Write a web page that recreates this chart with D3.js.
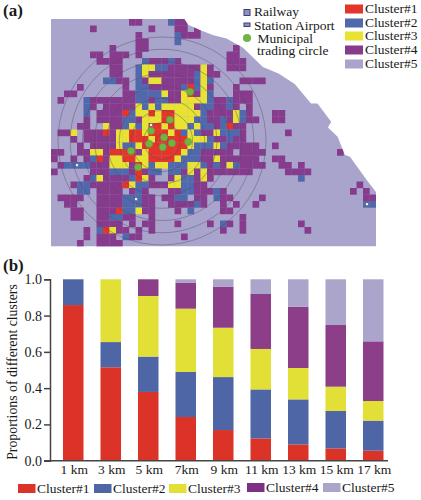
<!DOCTYPE html>
<html><head><meta charset="utf-8">
<script src="https://cdn.jsdelivr.net/npm/d3@7/dist/d3.min.js"></script>
<style>html,body{margin:0;background:#fff}svg{display:block}text{font-family:"Liberation Serif",serif;fill:#1a1a1a}</style>
</head><body><svg id="c" width="421" height="500"></svg>
<script>
const clusterNames=["Cluster#1","Cluster#2","Cluster#3","Cluster#4","Cluster#5"];
const mapColors=["#e3352a","#4f69ac","#e8e231","#873b8d","#a9a4cb"];
const barColors=["#dc3328","#4f66a6","#e2df36","#8c3f88","#aba5cc"];
const distances=["1 km","3 km","5 km","7km","9 km","11 km","13 km","15 km","17 km"];
const cluster1=[.858,.515,.379,.241,.169,.123,.09,.068,.055];
const cluster2=[.142,.139,.195,.248,.292,.27,.248,.206,.166];
const cluster3=[0,.346,.334,.349,.272,.223,.173,.134,.108];
const cluster4=[0,0,.092,.142,.227,.303,.338,.34,.329];
const cluster5=[0,0,0,.02,.04,.081,.151,.252,.342];
const yTicks=[0,.2,.4,.6,.8,1];
const ringKm=[1,3,5,7,9,11,13,15,17];
const gridRows=[
".......... ..44....24 4.........",
"......4... .....4...4 4.4.......",
".......... ...4.....2 444.......",
".......... ...44....2 ..........",
".........4 ...44..... ........4.",
"......44.4 44.4...... .......44.",
".......444 4...244424 .......444",
".........4 4..2332244 44434..444",
".........4 4..2344444 442344....",
"........22 44.2433444 44232....4 444",
"....4..... .4.2244444 21234...4.",
"..44...... .442222344 31432...44 4",
".4...24444 4442242244 3333244244 4",
".....24.44 4443232333 334224424. 4",
".....2.444 4123313113 3332444432 4",
".....4.444 4224333113 3322442432 44",
"....44..34 4232311313 3232242144",
".443.44414 3311311131 2324432224 ......4",
"...4.44444 3311131111 1333244244",
"....4.4444 3223111111 1322232444 44..4",
"44..443341 1114311111 32244444.4 444",
"4..4.42143 3113311113 2224434444 44..44",
".422224443 3341323322 2332424324 444..44.4.",
"4.....4442 2241422.22 4343444444 4.....4444",
".....42344 442134..43 22434..... ........2.",
"...4224444 4132244433 2244......",
"....22.444 4.424...44 2244424...",
".4444..444 422244.442 2.44.244.. ..4",
"..44...444 422244..44 4424..4.4. .4",
"...44..444 122344...4 .2....44..",
"...44..442 244..4.... .........4",
".......444 4.4.44...4 ....4.24.4 ........4.",
".....4.213 44.4.4.... ......4..4 .........4",
".....4.444 .244...... 4.........",
"....4..444 4........."
];
const rightRows={25:{47:4},26:{46:4,48:4},27:{48:4,49:4},28:{48:2,49:2},14:{34:4,35:4},15:{34:4,35:4},20:{44:4}};
const mapOutline=[[0,0],[20.5,0],[21.1,.9],[22.9,1.7],[25,2.5],[27,3],[29.5,4.4],[32.6,7.4],[35,8.4],[37.5,10],[40,13],[41,13],[43.1,15.8],[42.6,16.7],[44.1,18.1],[45.2,20.9],[46,21.2],[48.6,24.8],[50,26.6],[50,35],[0,35]];
const greenPoints=[[21.4,11.2],[18.3,15.5],[15.4,17.2],[17.4,18.2],[15.1,19.2],[17.2,19.7],[18.6,19.1],[21.1,18.9],[12.3,20.3],[13.4,22.8]];
const stationPoints=[[15.4,16.3],[4,22.5],[13.1,27.7],[48.6,28.5]];

const svg=d3.select("#c");
const gx=d3.scaleLinear().domain([0,50]).range([51,376]);
const gy=d3.scaleLinear().domain([0,35]).range([19,246.5]);
const defs=svg.append("defs");
defs.append("clipPath").attr("id","mapClip").append("path")
  .attr("d",d3.line().x(d=>gx(d[0])).y(d=>gy(d[1])).curve(d3.curveLinearClosed)(mapOutline));
defs.append("filter").attr("id","soft").append("feGaussianBlur").attr("stdDeviation",.45);
const m=svg.append("g").attr("filter","url(#soft)").append("g").attr("clip-path","url(#mapClip)");
m.append("rect").attr("x",gx(0)).attr("y",gy(0)).attr("width",gx(50)-gx(0)).attr("height",gy(35)-gy(0)).attr("fill",mapColors[4]);
const cells=[];
gridRows.forEach((s,r)=>{
  const t=s.replace(/ /g,"");
  [...t].forEach((ch,c)=>{ if(ch!=="."&&c<50) cells.push({c,r,k:+ch}); });
});
Object.entries(rightRows).forEach(([r,o])=>Object.entries(o).forEach(([c,k])=>cells.push({c:+c,r:+r,k})));
m.selectAll("rect.cell").data(cells).join("rect").attr("class","cell")
  .attr("x",d=>gx(d.c)).attr("y",d=>gy(d.r))
  .attr("width",gx(1)-gx(0)+.2).attr("height",gy(1)-gy(0)+.2)
  .attr("fill",d=>mapColors[d.k-1]);
const rad=d3.scaleLinear().domain([0,17]).range([0,104]);
svg.append("g").selectAll("circle").data(ringKm).join("circle")
  .attr("cx",162).attr("cy",141).attr("r",d=>rad(d))
  .attr("fill","none").attr("stroke","#4a4a66").attr("stroke-opacity",.6).attr("stroke-width",.7);
svg.append("g").selectAll("circle").data(greenPoints).join("circle")
  .attr("cx",d=>gx(d[0])).attr("cy",d=>gy(d[1])).attr("r",3.6)
  .attr("fill","#6fb544").attr("stroke","#5a9c3a").attr("stroke-width",.5);
svg.append("g").selectAll("rect").data(stationPoints).join("rect")
  .attr("x",d=>gx(d[0])-1.5).attr("y",d=>gy(d[1])-1.5).attr("width",3).attr("height",3)
  .attr("fill","#eee").attr("stroke","#44446a").attr("stroke-width",.5);

svg.append("text").attr("x",3).attr("y",16).attr("font-size",17).attr("font-weight","bold").text("(a)");
svg.append("text").attr("x",3).attr("y",271).attr("font-size",17).attr("font-weight","bold").text("(b)");

svg.append("rect").attr("x",244).attr("y",9.5).attr("width",6).attr("height",6).attr("fill","#8f8fc0").attr("stroke","#3e3e78").attr("stroke-width",1);
svg.append("rect").attr("x",244).attr("y",23).attr("width",6).attr("height",3.5).attr("fill","#8f8fc0").attr("stroke","#3e3e78").attr("stroke-width",1);
svg.append("circle").attr("cx",247).attr("cy",38).attr("r",4).attr("fill","#6fb544");
[["Railway",254,16],["Station Airport",254,30],["Municipal",257.5,42.5],["trading circle",257,54.5]].forEach(d=>
  svg.append("text").attr("x",d[1]).attr("y",d[2]).attr("font-size",13.5).text(d[0]));
const topY=[9,23,36,50,64];
clusterNames.forEach((n,i)=>{
  svg.append("rect").attr("x",345).attr("y",topY[i]-4.5).attr("width",18).attr("height",9).attr("fill",mapColors[i]);
  svg.append("text").attr("x",365).attr("y",topY[i]+4).attr("font-size",13.5).text(n);
});

const series=[cluster1,cluster2,cluster3,cluster4,cluster5];
const rows=distances.map((d,i)=>{const o={d};clusterNames.forEach((n,k)=>o[n]=series[k][i]);return o;});
const stack=d3.stack().keys(clusterNames)(rows);
const x=d3.scaleBand().domain(distances).range([63,383.5]).paddingInner(.453).paddingOuter(0);
const y=d3.scaleLinear().domain([0,1]).range([460.7,279.3]);
const barG=svg.append("g");
stack.forEach((s,i)=>{
  barG.selectAll("rect.s"+i).data(s).join("rect").attr("class","s"+i)
   .attr("x",d=>x(d.data.d)).attr("width",x.bandwidth())
   .attr("y",d=>y(d[1])).attr("height",d=>y(d[0])-y(d[1]))
   .attr("fill",barColors[i]);
});
const ya=svg.append("g").attr("transform","translate(50,0)")
  .call(d3.axisLeft(y).tickValues(yTicks).tickFormat(d3.format(".1f")).tickSize(6).tickPadding(2));
ya.selectAll("path,line").attr("stroke","#444").attr("stroke-width",1.5);
ya.selectAll("text").attr("font-size",14).attr("font-family","Liberation Serif").attr("fill","#1a1a1a");
const xa=svg.append("g").attr("transform","translate(1,460.7)")
  .call(d3.axisBottom(x).tickSize(0).tickPadding(4));
xa.select("path").attr("d","M43,0H387").attr("stroke","#444").attr("stroke-width",1.5);
xa.selectAll("text").attr("font-size",13.5).attr("font-family","Liberation Serif").attr("fill","#1a1a1a");
svg.append("text").attr("transform","translate(17,372) rotate(-90)").attr("text-anchor","middle").attr("font-size",13.8).text("Proportions of different clusters");

const botSw=[18,94,169,247,323];
const botY=[488.5,488.5,488.5,487.5,487.5];
clusterNames.forEach((n,i)=>{
  svg.append("rect").attr("x",botSw[i]).attr("y",botY[i]-4.5).attr("width",17.5).attr("height",9).attr("fill",i===3?"#7d2f86":barColors[i]);
  svg.append("text").attr("x",botSw[i]+19).attr("y",botY[i]+4.5).attr("font-size",13.5).text(n);
});
</script></body></html>
